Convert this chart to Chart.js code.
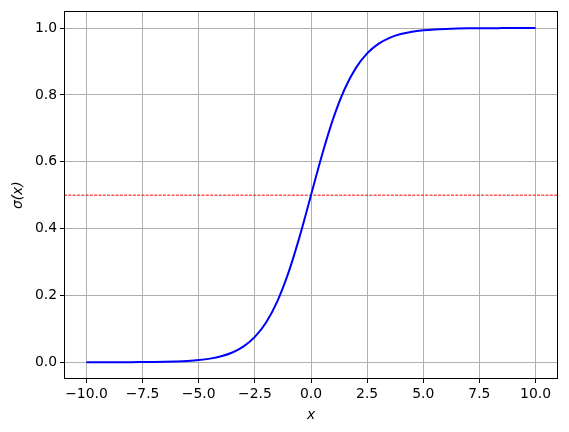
<!DOCTYPE html>
<html lang="en">
<head>
    <meta charset="UTF-8">
    <title>Sigmoid</title>
    <script src="https://cdn.jsdelivr.net/npm/chart.js"></script>
    <style>
        html, body { margin: 0; padding: 0; background: #fff; }
        #wrap { width: 569px; height: 432px; }
    </style>
</head>
<body>
    <div id="wrap"><canvas id="myChart" width="569" height="432"></canvas></div>

    <script>
        // values
        const xs = [-10, -9.5, -9, -8.5, -8, -7.5, -7, -6.5, -6, -5.5, -5, -4.5, -4, -3.5, -3, -2.5, -2, -1.5, -1, -0.5,
                    0, 0.5, 1, 1.5, 2, 2.5, 3, 3.5, 4, 4.5, 5, 5.5, 6, 6.5, 7, 7.5, 8, 8.5, 9, 9.5, 10];
        const sigma = [0.00005, 0.00007, 0.00012, 0.0002, 0.0003, 0.0006, 0.0009, 0.0015, 0.0025, 0.0041, 0.0067, 0.011, 0.018, 0.0293, 0.0474, 0.0759, 0.1192, 0.1824, 0.2689, 0.3775,
                       0.5, 0.6225, 0.7311, 0.8176, 0.8808, 0.9241, 0.9526, 0.9707, 0.982, 0.989, 0.9933, 0.9959, 0.9975, 0.9985, 0.9991, 0.9994, 0.9997, 0.9998, 0.99988, 0.99993, 0.99995];
        const threshold = 0.5;
        const xTicks = [-10, -7.5, -5, -2.5, 0, 2.5, 5, 7.5, 10];
        const yTicks = [0, 0.2, 0.4, 0.6, 0.8, 1.0];

        const font = 'DejaVu Sans';

        function fmt(v) {
            const s = v.toFixed(1);
            return v < 0 ? '\u2212' + s.slice(1) : s;
        }

        const frame = {
            id: 'frame',
            afterDraw(chart) {
                const a = chart.chartArea, ctx = chart.ctx;
                ctx.save();
                ctx.strokeStyle = '#000';
                ctx.lineWidth = 1;
                ctx.strokeRect(Math.round(a.left) + 0.5, Math.round(a.top) + 0.5,
                    Math.round(a.right - a.left) - 1, Math.round(a.bottom - a.top) - 1);
                ctx.restore();
            }
        };

        const data = {
            datasets: [{
                data: xs.map((x, i) => ({ x: x, y: sigma[i] })),
                borderColor: '#0000ff',
                borderWidth: 2,
                pointRadius: 0,
                cubicInterpolationMode: 'monotone',
                fill: false
            }, {
                data: [{ x: -11, y: threshold }, { x: 11, y: threshold }],
                borderColor: '#ff0000',
                borderWidth: 1,
                borderDash: [3, 1.3],
                pointRadius: 0,
                fill: false
            }]
        };

        const config = {
            type: 'line',
            data: data,
            options: {
                responsive: false,
                animation: false,
                layout: { padding: { top: 10, right: 11, left: 0, bottom: 0 } },
                plugins: { legend: { display: false }, tooltip: { enabled: false } },
                scales: {
                    x: {
                        type: 'linear',
                        min: -11,
                        max: 11,
                        afterBuildTicks: s => { s.ticks = xTicks.map(v => ({ value: v })); },
                        afterFit: s => { s.height = 53; },
                        border: { display: false },
                        grid: { color: '#b0b0b0', lineWidth: 1, tickColor: '#000', tickLength: 4 },
                        ticks: { color: '#000', font: { family: font, size: 13.9 }, padding: 3, maxRotation: 0,
                                 callback: v => fmt(v) },
                        title: { display: true, text: 'x', color: '#000', padding: { top: 2, bottom: 8 },
                                 font: { family: font, size: 13.9, style: 'italic' } }
                    },
                    y: {
                        min: -0.05,
                        max: 1.05,
                        afterBuildTicks: s => { s.ticks = yTicks.map(v => ({ value: v })); },
                        afterFit: s => { s.width = 64; },
                        border: { display: false },
                        grid: { color: '#b0b0b0', lineWidth: 1, tickColor: '#000', tickLength: 4 },
                        ticks: { color: '#000', font: { family: font, size: 13.9 }, padding: 3,
                                 callback: v => fmt(v) },
                        title: { display: true, text: 'σ(x)', color: '#000', padding: { top: 10, bottom: 4 },
                                 font: { family: font, size: 13.9, style: 'italic' } }
                    }
                }
            },
            plugins: [frame]
        };

        const myChart = new Chart(document.getElementById('myChart'), config);
    </script>
</body>
</html>
